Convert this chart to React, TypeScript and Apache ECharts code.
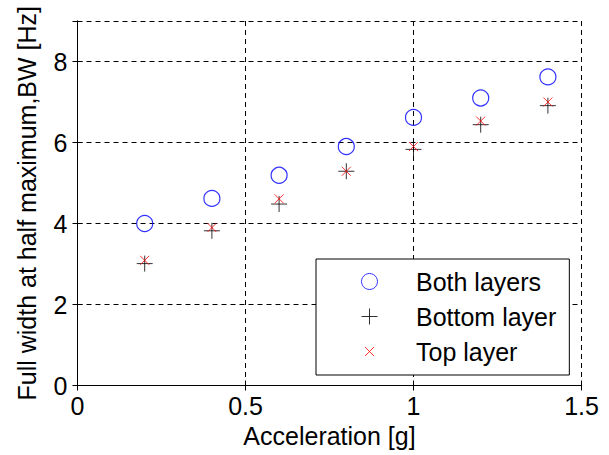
import React, { useEffect, useRef } from "react";
import * as echarts from "echarts";

const accel = [0.2, 0.4, 0.6, 0.8, 1.0, 1.2, 1.4];
const bothLayers = [4.0, 4.62, 5.19, 5.9, 6.62, 7.1, 7.62];
const bottomLayer = [3.01, 3.82, 4.48, 5.29, 5.83, 6.44, 6.91];
const topLayer = [3.09, 3.9, 4.61, 5.29, 5.9, 6.53, 7.0];
const seriesNames = ["Both layers", "Bottom layer", "Top layer"];

const PLUS = "path://M0,8L16,8M8,0L8,16";
const CROSS = "path://M0,0M16,16M3.5,3.5L12.5,12.5M3.5,12.5L12.5,3.5";

const FONT = "'Liberation Sans', Arial, sans-serif";
const FS = 25;

export default function App() {
  const ref = useRef<HTMLDivElement>(null);
  useEffect(() => {
    const chart = echarts.init(ref.current!, null, { renderer: "svg" });
    const pts = (ys: number[]) => accel.map((x, i) => [x, ys[i]]);
    const axisCommon = {
      axisLine: { show: true, lineStyle: { color: "#000", width: 1 } },
      axisTick: { show: true, inside: true, length: 5, lineStyle: { color: "#000" } },
    };
    chart.setOption({
      animation: false,
      backgroundColor: "#fff",
      grid: { left: 77.5, right: 27.5, top: 21, bottom: 69.5, outerBoundsMode: "none", containLabel: false },
      xAxis: [
        {
          type: "value",
          min: 0,
          max: 1.5,
          interval: 0.5,
          position: "bottom",
          name: "Acceleration [g]",
          nameLocation: "middle",
          nameGap: 38,
          nameTextStyle: { color: "#000", fontSize: FS, fontFamily: FONT },
          ...axisCommon,
          axisLabel: { color: "#000", fontSize: FS, fontFamily: FONT, margin: 8 },
          splitLine: { show: true, lineStyle: { color: "#000", type: [5, 4], width: 1 } },
        },
        {
          type: "value",
          min: 0,
          max: 1.5,
          interval: 0.5,
          position: "top",
          ...axisCommon,
          axisLabel: { show: false },
          splitLine: { show: false },
        },
      ],
      yAxis: [
        {
          type: "value",
          min: 0,
          max: 9,
          interval: 2,
          position: "left",
          name: "Full width at half maximum,BW [Hz]",
          nameLocation: "middle",
          nameGap: 38,
          nameRotate: 90,
          nameTextStyle: { color: "#000", fontSize: FS, fontFamily: FONT },
          ...axisCommon,
          axisLabel: { color: "#000", fontSize: FS, fontFamily: FONT, margin: 10, showMaxLabel: false },
          splitLine: { show: true, lineStyle: { color: "#000", type: [5, 4], width: 1 } },
        },
        {
          type: "value",
          min: 0,
          max: 9,
          interval: 2,
          position: "right",
          ...axisCommon,
          axisLabel: { show: false },
          splitLine: { show: false },
        },
      ],
      legend: {
        orient: "vertical",
        left: 316,
        top: 259,
        padding: [10, 13, 11, 45],
        itemGap: 10,
        itemWidth: 83,
        itemHeight: 16,
        backgroundColor: "#fff",
        borderColor: "#000",
        borderWidth: 1,
        borderRadius: 0,
        textStyle: { color: "#000", fontSize: FS, fontFamily: FONT },
        itemStyle: { borderWidth: 1 },
        data: seriesNames,
      },
      series: [
        {
          name: seriesNames[0],
          type: "scatter",
          data: pts(bothLayers),
          symbol: "circle",
          symbolSize: 16,
          itemStyle: { color: "rgba(0,0,0,0)", borderColor: "#0000ff", borderWidth: 1.2 },
          z: 3,
        },
        {
          name: seriesNames[1],
          type: "scatter",
          data: pts(bottomLayer),
          symbol: PLUS,
          symbolSize: 16,
          itemStyle: { color: "rgba(0,0,0,0)", borderColor: "#000", borderWidth: 1 },
          z: 4,
        },
        {
          name: seriesNames[2],
          type: "scatter",
          data: pts(topLayer),
          symbol: CROSS,
          symbolSize: 16,
          itemStyle: { color: "rgba(0,0,0,0)", borderColor: "#ff0000", borderWidth: 1 },
          z: 5,
        },
      ],
    });
    return () => chart.dispose();
  }, []);
  return <div ref={ref} style={{ width: 609, height: 455, position: "absolute", left: 0, top: 0 }} />;
}
